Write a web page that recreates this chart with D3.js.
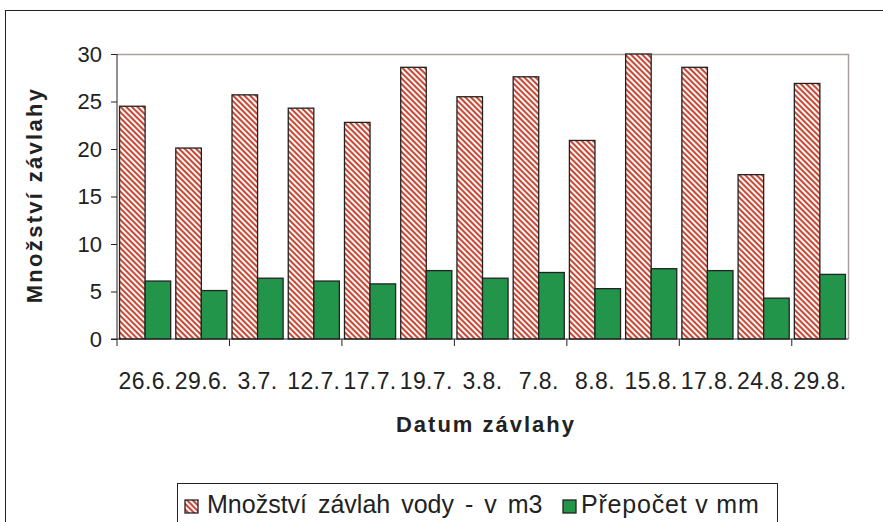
<!DOCTYPE html>
<html>
<head>
<meta charset="utf-8">
<script src="https://cdn.jsdelivr.net/npm/d3@7"></script>
<style>
  body{margin:0;background:#fff;}
  svg{display:block;font-family:"Liberation Sans", Arial, sans-serif;}
</style>
</head>
<body>
<svg id="chart" width="883" height="522"></svg>
<script>
// data
const dates = ["26.6.", "29.6.", "3.7.", "12.7.", "17.7.", "19.7.", "3.8.", "7.8.", "8.8.", "15.8.", "17.8.", "24.8.", "29.8."];
const volume = [24.5, 20.1, 25.7, 24.3, 22.8, 28.6, 25.5, 27.6, 20.9, 30.0, 28.6, 17.3, 26.9];
const mm = [6.1, 5.1, 6.4, 6.1, 5.8, 7.2, 6.4, 7.0, 5.3, 7.4, 7.2, 4.3, 6.8];
const yTicks = [0, 5, 10, 15, 20, 25, 30];
const seriesNames = ["Množství závlah vody - v m3", "Přepočet v mm"];

const svg = d3.select("#chart");
const plot = {left: 117, top: 54, right: 848, bottom: 339};

// hatch for the first series (stripes running down to the right)
const defs = svg.append("defs");
const pat = defs.append("pattern").attr("id", "hatch")
  .attr("patternUnits", "userSpaceOnUse").attr("width", 4).attr("height", 4)
  .attr("patternTransform", "rotate(45)");
pat.append("rect").attr("width", 4).attr("height", 4).attr("fill", "#fff");
pat.append("rect").attr("width", 4).attr("height", 2.1).attr("fill", "#c84a36");

// outer chart frame
svg.append("rect").attr("x", 5.5).attr("y", 10.5).attr("width", 900).attr("height", 600)
  .attr("fill", "none").attr("stroke", "#222").attr("stroke-width", 1);

const x = d3.scaleBand().domain(dates).range([plot.left, plot.right]).paddingInner(0).paddingOuter(0);
const xIn = d3.scaleBand().domain([0, 1]).range([0, x.bandwidth()]).paddingInner(0).paddingOuter(0.1);
const y = d3.scaleLinear().domain([0, 30]).range([plot.bottom, plot.top]);

// plot area border (top/right gray)
svg.append("path")
  .attr("d", `M${plot.left},${plot.top + 0.5}H${plot.right + 0.5}V${plot.bottom}`)
  .attr("fill", "none").attr("stroke", "#aaa0a0").attr("stroke-width", 1.5);

// bars
const groups = svg.append("g").selectAll("g").data(dates).join("g")
  .attr("transform", d => `translate(${x(d)},0)`);
groups.append("rect")
  .attr("x", xIn(0)).attr("width", xIn.bandwidth())
  .attr("y", (d, i) => y(volume[i])).attr("height", (d, i) => y(0) - y(volume[i]))
  .attr("fill", "url(#hatch)").attr("stroke", "#222").attr("stroke-width", 1.3);
groups.append("rect")
  .attr("x", xIn(1)).attr("width", xIn.bandwidth())
  .attr("y", (d, i) => y(mm[i])).attr("height", (d, i) => y(0) - y(mm[i]))
  .attr("fill", "#23954a").attr("stroke", "#222").attr("stroke-width", 1.3);

// y axis
const yAxis = svg.append("g").attr("transform", `translate(${plot.left},0)`)
  .call(d3.axisLeft(y).tickValues(yTicks).tickSize(6).tickPadding(9));
yAxis.select(".domain").attr("stroke", "#222").attr("d", `M0,${plot.top}V${plot.bottom}`);
yAxis.selectAll(".tick line").attr("stroke", "#222");
yAxis.selectAll("text").attr("font-size", 22).attr("fill", "#222");

// x axis, tick marks every second category
const xAxis = svg.append("g").attr("transform", `translate(0,${plot.bottom})`);
xAxis.append("line").attr("x1", plot.left - 6).attr("x2", plot.right + 0.5)
  .attr("stroke", "#222").attr("stroke-width", 1);
const tickPos = d3.range(0, dates.length + 1, 2).map(i => plot.left + i * x.step());
xAxis.selectAll(".tk").data(tickPos).join("line").attr("class", "tk")
  .attr("x1", d => d).attr("x2", d => d).attr("y1", 0).attr("y2", 7).attr("stroke", "#222");
xAxis.selectAll(".lbl").data(dates).join("text").attr("class", "lbl")
  .attr("x", d => x(d) + x.bandwidth() / 2).attr("y", 50)
  .attr("text-anchor", "middle").attr("font-size", 23).attr("letter-spacing", 0.4).attr("fill", "#222")
  .text(d => d);

// axis titles
svg.append("text").attr("x", 486).attr("y", 432).attr("text-anchor", "middle")
  .attr("font-size", 22).attr("font-weight", "bold").attr("letter-spacing", 2).attr("fill", "#222")
  .text("Datum závlahy");
svg.append("text").attr("transform", "translate(42,195) rotate(-90)").attr("text-anchor", "middle")
  .attr("font-size", 22).attr("font-weight", "bold").attr("letter-spacing", 2.3).attr("fill", "#222")
  .text("Množství závlahy");

// legend
const lg = svg.append("g").attr("transform", "translate(177,483)");
lg.append("rect").attr("x", 0.5).attr("y", 0.5).attr("width", 600).attr("height", 60)
  .attr("fill", "#fff").attr("stroke", "#222");
const items = [{fill: "url(#hatch)", x: 8, ws: 4, ls: 0, gap: 22}, {fill: "#23954a", x: 386, ws: 0, ls: 0.8, gap: 18}];
items.forEach((it, i) => {
  lg.append("rect").attr("x", it.x).attr("y", 17).attr("width", 13).attr("height", 13)
    .attr("fill", it.fill).attr("stroke", "#222").attr("stroke-width", 1.3);
  lg.append("text").attr("x", it.x + it.gap).attr("y", 30).attr("font-size", 25)
    .attr("word-spacing", it.ws).attr("letter-spacing", it.ls).attr("fill", "#222")
    .text(seriesNames[i]);
});
</script>
</body>
</html>
